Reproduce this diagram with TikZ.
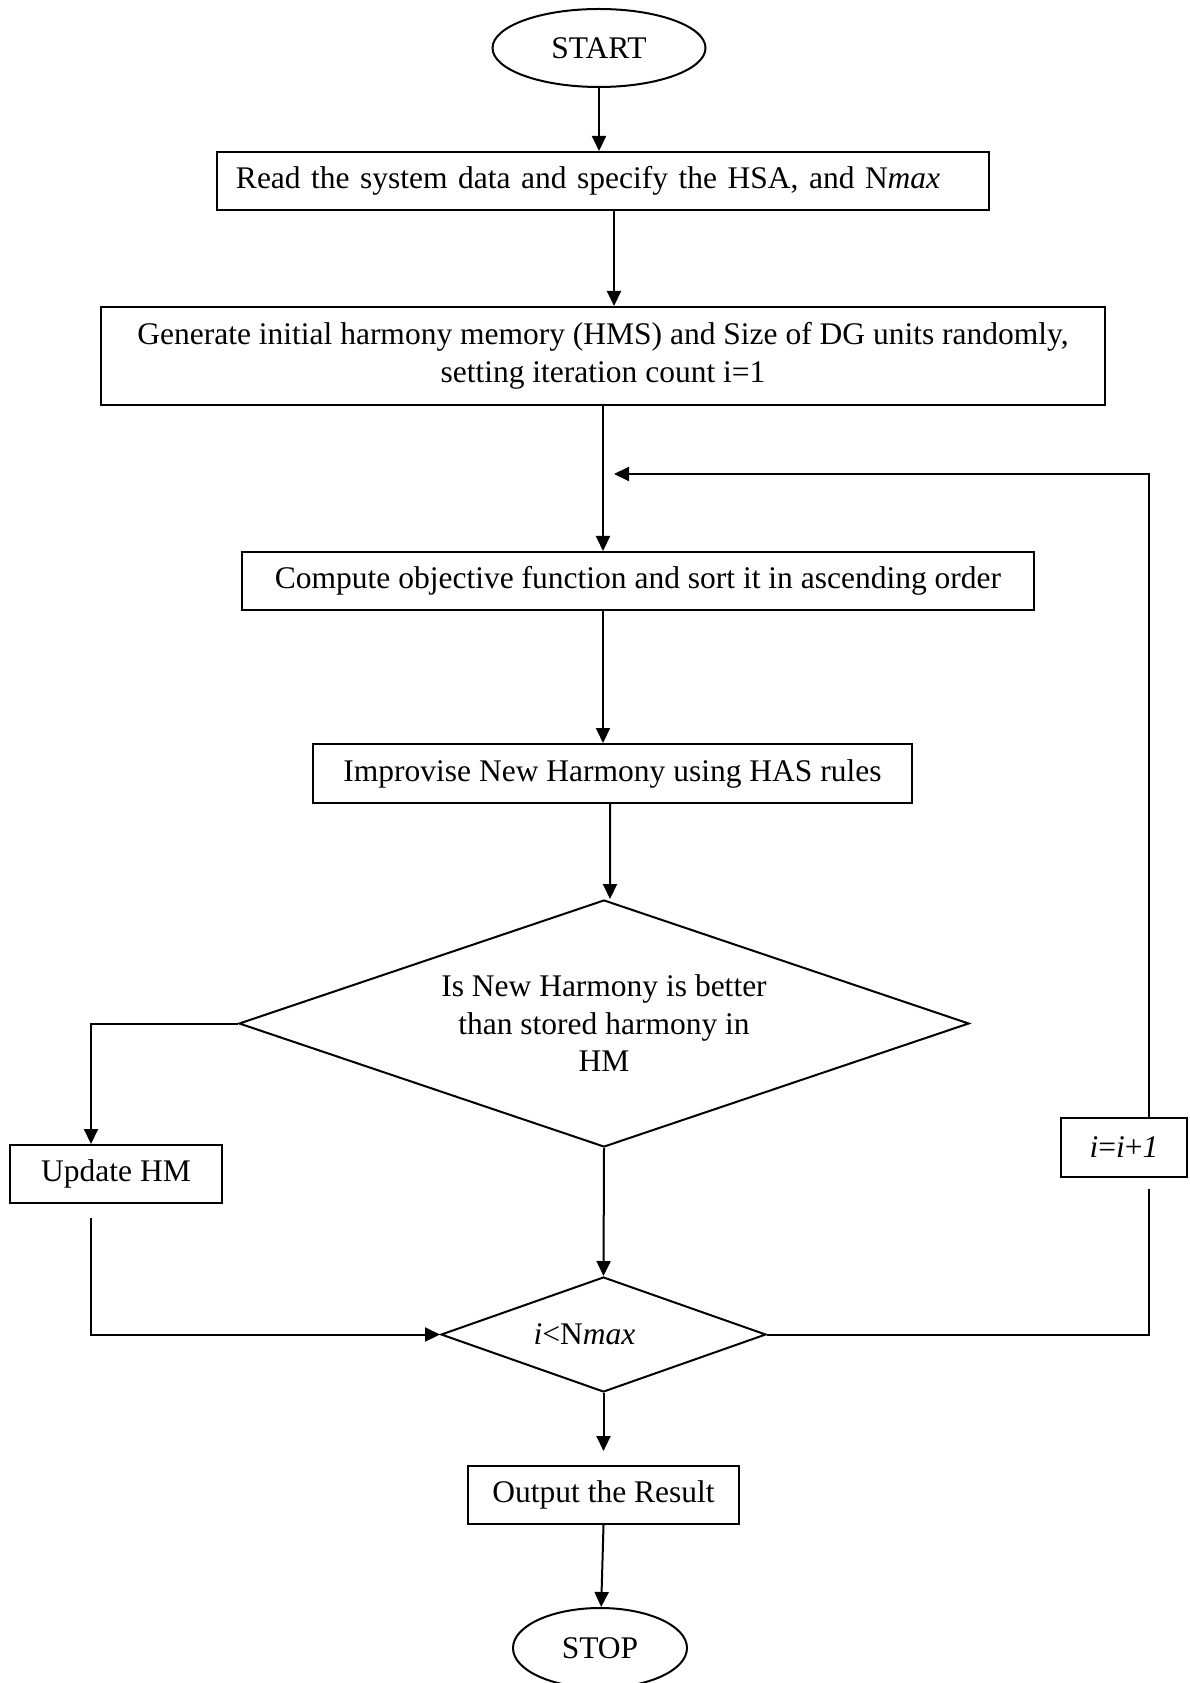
\documentclass[tikz,border=0pt]{standalone}
\usepackage{fontspec}
\setmainfont{Liberation Serif}
\usetikzlibrary{shapes.geometric,arrows.meta}
\tikzset{
 blk/.style={draw,line width=0.8pt,inner sep=0pt,align=center},
 term/.style={draw,ellipse,line width=0.8pt,inner sep=0pt},
 cond/.style={draw,diamond,line width=0.8pt,inner sep=0pt,align=center},
 arr/.style={line width=0.8pt,-{Triangle[length=6pt,width=5.6pt]}},
 ln/.style={line width=0.8pt}
}
\begin{document}
\begin{tikzpicture}[x=0.4pt,y=-0.4pt,font=\fontsize{12.6}{15}\selectfont]
\useasboundingbox (0,0) rectangle (1189,1683);
%boxes
\node[term,minimum width=85.2pt,minimum height=31.2pt](start) at (599,48) {START};
\node[blk,minimum height=23.2pt,text width=293.6pt,inner xsep=7.6pt,align=left](read) at (603,181) {Read the system data and specify the HSA, and N\textit{max}};
\node[blk,minimum width=401.6pt,minimum height=39.2pt](gen) at (603,356) {Generate initial harmony memory (HMS) and Size of DG units randomly,\\setting iteration count i=1};
\node[blk,minimum width=316.8pt,minimum height=23.2pt](comp) at (638,581) {Compute objective function and sort it in ascending order};
\node[blk,minimum width=239.6pt,minimum height=23.6pt](impr) at (612.5,773.5) {Improvise New Harmony using HAS rules};
\node[cond,aspect=2.96,minimum width=292pt,minimum height=98.8pt](dec) at (604,1023.5) {Is New Harmony is better\\than stored harmony in\\HM};
\node[blk,minimum width=84.8pt,minimum height=23.2pt](upd) at (116,1174) {Update HM};
\node[cond,aspect=2.83,minimum width=130pt,minimum height=46pt](chk) at (603.5,1334.5) {\textit{i}<N\textit{max}\hspace*{15.2pt}};
\node[blk,minimum width=50.4pt,minimum height=23.6pt](inc) at (1124,1147.5) {\textit{i}=\textit{i}+\textit{1}};
\node[blk,minimum width=108.4pt,minimum height=23.2pt](out) at (603.5,1495) {Output the Result};
\node[term,minimum width=69.6pt,minimum height=32pt](stop) at (600,1648) {STOP};
\coordinate (back) at (614,474);
%main flow
\draw[arr](start)--(start|-read.north);
\draw[arr]([xshift=4.4pt]read.south)--([xshift=4.4pt]gen.north);
\draw[arr](gen.south)--(gen.south|-comp.north);
\draw[arr](gen.south|-comp.south)--(gen.south|-impr.north);
\draw[arr]([xshift=-1pt]impr.south)--([xshift=2.4pt]dec.north);
\draw[arr](dec.south)--(chk.north);
\draw[arr](chk.south)--([yshift=5.6pt]out.north);
\draw[arr](out.south)--(stop);
%side branches
\draw[arr](dec.west)-|([xshift=-10pt]upd.north);
\draw[arr]([xshift=-10pt,yshift=-5.6pt]upd.south)|-(chk.west);
\draw[ln](chk.east)-|([xshift=10pt,yshift=-4.4pt]inc.south);
\draw[arr]([xshift=10pt]inc.north)|-(back);
\end{tikzpicture}
\end{document}
